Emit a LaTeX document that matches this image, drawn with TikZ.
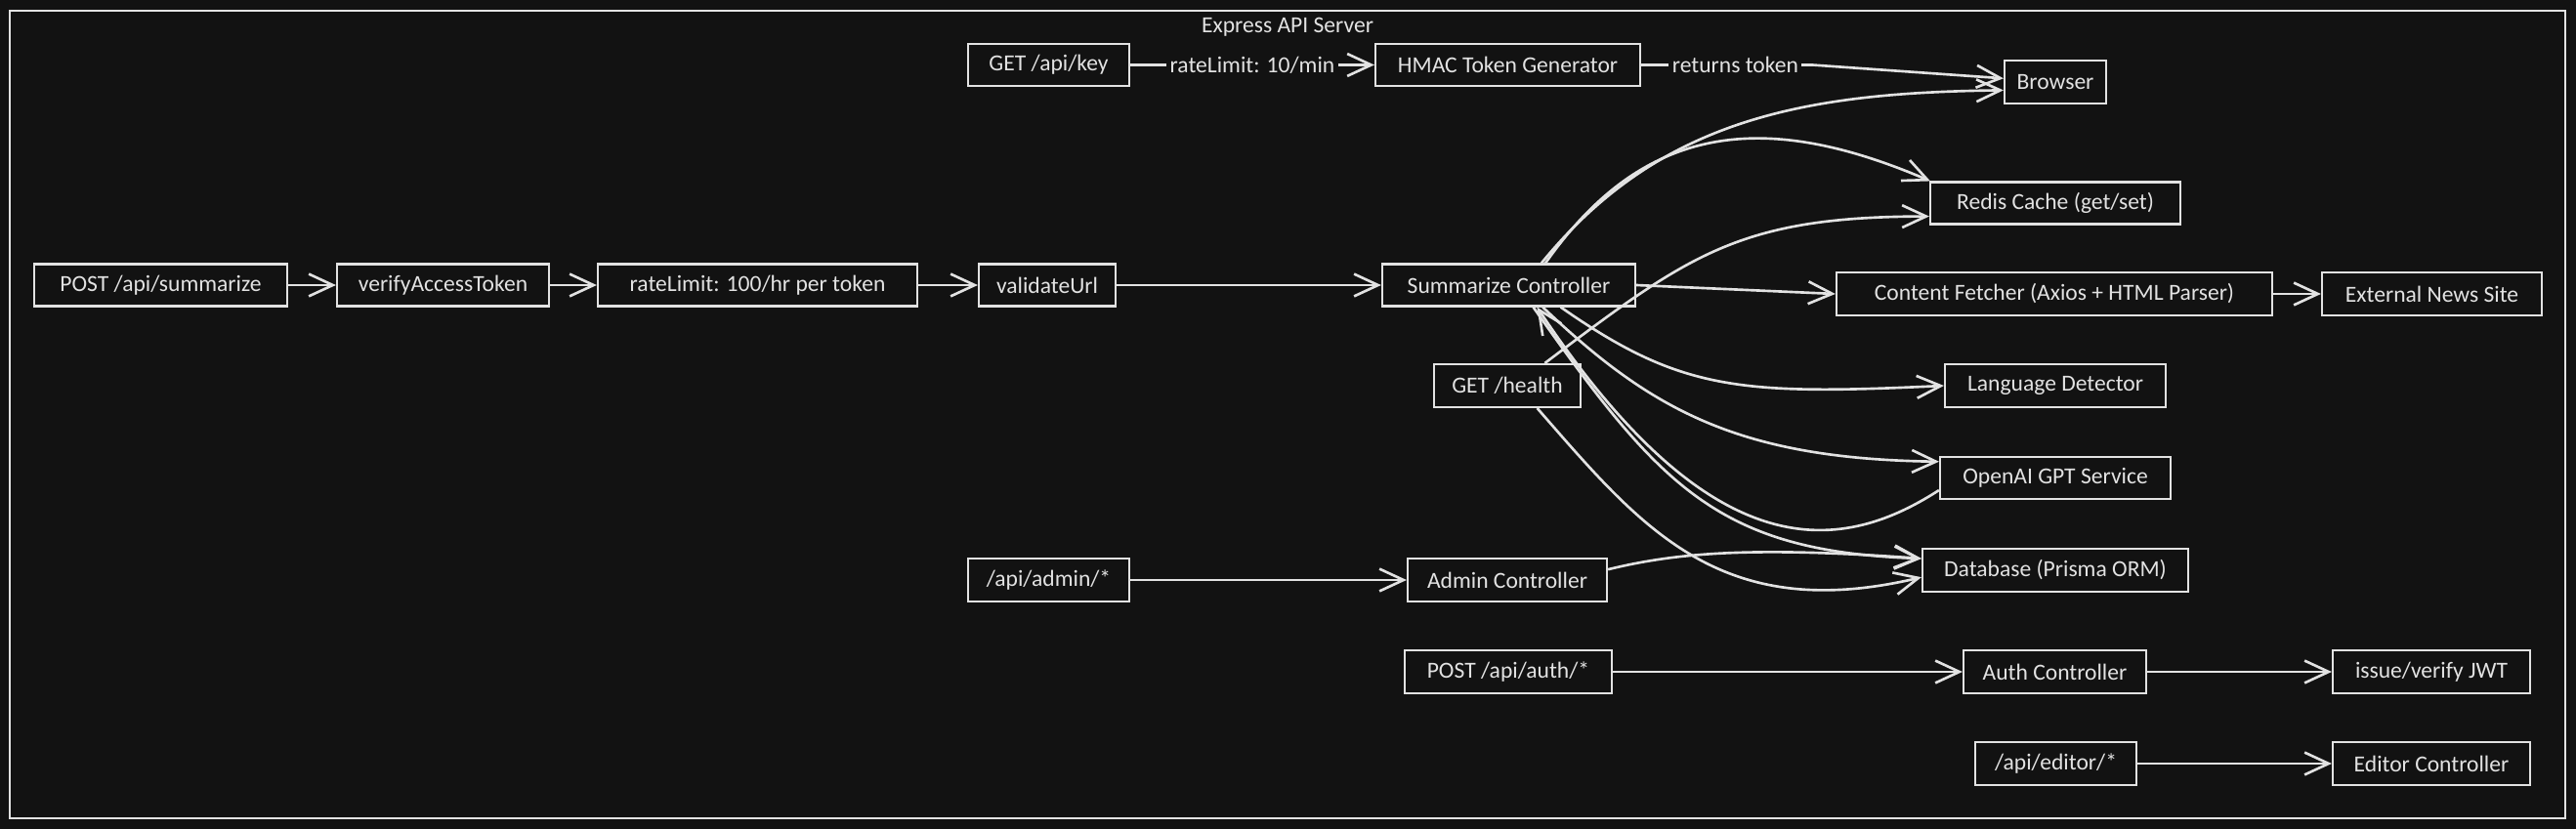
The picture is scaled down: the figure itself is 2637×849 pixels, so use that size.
\documentclass[tikz,border=0pt]{standalone}
\usepackage{fontspec}
\setmainfont{Carlito}
\usepackage{tikz}
\usetikzlibrary{arrows.meta}
\definecolor{fons}{HTML}{121212}
\definecolor{linia}{HTML}{E2E2E2}

\begin{document}
\begin{tikzpicture}[
    x=0.01cm, y=-0.01cm,
    >={Straight Barb[length=7pt,width=6.5pt]},
    caixa/.style={draw=linia, line width=0.6pt, text=linia,
        minimum height=0.43cm, inner sep=0pt,
        font=\fontsize{6.7}{8}\selectfont},
    fletxa/.style={->, draw=linia, line width=0.75pt},
    etiq/.style={fill=fons, text=linia, inner sep=1pt,
        font=\fontsize{6.7}{8}\selectfont}
]

% Fons
\fill[fons] (0,0) rectangle (2637,849);
\useasboundingbox (0,0) rectangle (2637,849);

% Marc del servidor
\draw[linia, line width=0.6pt] (10,11) rectangle (2626,838);
\node[etiq] (titol) at (1318,28) {Express API Server};

% Cadena de resum
\node[caixa, minimum width=2.59cm] (sumpost) at (164.5,292) {POST /api/summarize};
\node[caixa, minimum width=2.17cm] (verify) at (453.5,292) {verifyAccessToken};
\node[caixa, minimum width=3.27cm] (ratelim) at (775.5,292) {rateLimit: 100/hr per token};
\node[caixa, minimum width=1.40cm] (validate) at (1072,292) {validateUrl};
\node[caixa, minimum width=2.59cm] (sumctl) at (1544.5,292) {Summarize Controller};

% Clau i navegador
\node[caixa, minimum width=1.65cm] (apikey) at (1073.5,66.5) {GET /api/key};
\node[caixa, minimum width=2.71cm] (hmac) at (1543.5,66.5) {HMAC Token Generator};
\node[caixa, minimum width=1.04cm, minimum height=0.44cm] (browser) at (2104,84) {Browser};

% Serveis
\node[caixa, minimum width=2.56cm] (redis) at (2104,208) {Redis Cache (get/set)};
\node[caixa, minimum width=4.46cm, minimum height=0.44cm] (fetcher) at (2103,301) {Content Fetcher (Axios + HTML Parser)};
\node[caixa, minimum width=2.25cm, minimum height=0.44cm] (news) at (2489.5,301) {External News Site};
\node[caixa, minimum width=1.50cm, minimum height=0.44cm] (health) at (1543,395) {GET /health};
\node[caixa, minimum width=2.26cm, minimum height=0.44cm] (langdet) at (2104,395) {Language Detector};
\node[caixa, minimum width=2.36cm] (openai) at (2104,489.5) {OpenAI GPT Service};
\node[caixa, minimum width=2.72cm, minimum height=0.44cm] (db) at (2104,584) {Database (Prisma ORM)};

% Admin, auth, editor
\node[caixa, minimum width=1.65cm, minimum height=0.44cm] (adminapi) at (1073.5,594) {/api/admin/*};
\node[caixa, minimum width=2.04cm, minimum height=0.44cm] (adminctl) at (1543,594) {Admin Controller};
\node[caixa, minimum width=2.12cm, minimum height=0.44cm] (authapi) at (1544,688) {POST /api/auth/*};
\node[caixa, minimum width=1.87cm, minimum height=0.44cm] (authctl) at (2103.5,688) {Auth Controller};
\node[caixa, minimum width=2.02cm, minimum height=0.44cm] (jwt) at (2489,688) {issue/verify JWT};
\node[caixa, minimum width=1.65cm, minimum height=0.44cm] (editorapi) at (2104.5,782) {/api/editor/*};
\node[caixa, minimum width=2.02cm, minimum height=0.44cm] (editorctl) at (2489,782) {Editor Controller};

% Fletxes rectes
\draw[fletxa] (sumpost) -- (verify);
\draw[fletxa] (verify) -- (ratelim);
\draw[fletxa] (ratelim) -- (validate);
\draw[fletxa] (validate) -- (sumctl);
\draw[fletxa] (apikey) -- node[etiq] {rateLimit: 10/min} (hmac);
\draw[fletxa] (hmac.east) -- node[etiq, pos=0.55] {returns token} ++(175,0) -- (browser.176);
\draw[fletxa] (sumctl.east) -- (fetcher.west);
\draw[fletxa] (fetcher) -- (news);
\draw[fletxa] (adminapi) -- (adminctl);
\draw[fletxa] (authapi) -- (authctl);
\draw[fletxa] (authctl) -- (jwt);
\draw[fletxa] (editorapi) -- (editorctl);

% Fletxes corbes
\draw[fletxa] (sumctl.34) .. controls (1700,120) and (1850,95) .. (browser.189);
\draw[fletxa] (sumctl.31) .. controls (1680,130) and (1800,110) .. (redis.170);
\draw[fletxa] (health.31) .. controls (1730,260) and (1780,222) .. (redis.186);
\draw[fletxa] (sumctl.337) .. controls (1720,400) and (1780,405) .. (langdet.west);
\draw[fletxa] (sumctl.327) .. controls (1690,420) and (1780,470) .. (openai.172);
\draw[fletxa] (openai.186) .. controls (1880,570) and (1750,580) .. (sumctl.322);
\draw[fletxa] (sumctl.318) .. controls (1700,500) and (1760,565) .. (db.175);
\draw[fletxa] (health.323) .. controls (1680,540) and (1760,640) .. (db.183);
\draw[fletxa] (adminctl.6) .. controls (1720,565) and (1800,560) .. (db.175);

\end{tikzpicture}
\end{document}
